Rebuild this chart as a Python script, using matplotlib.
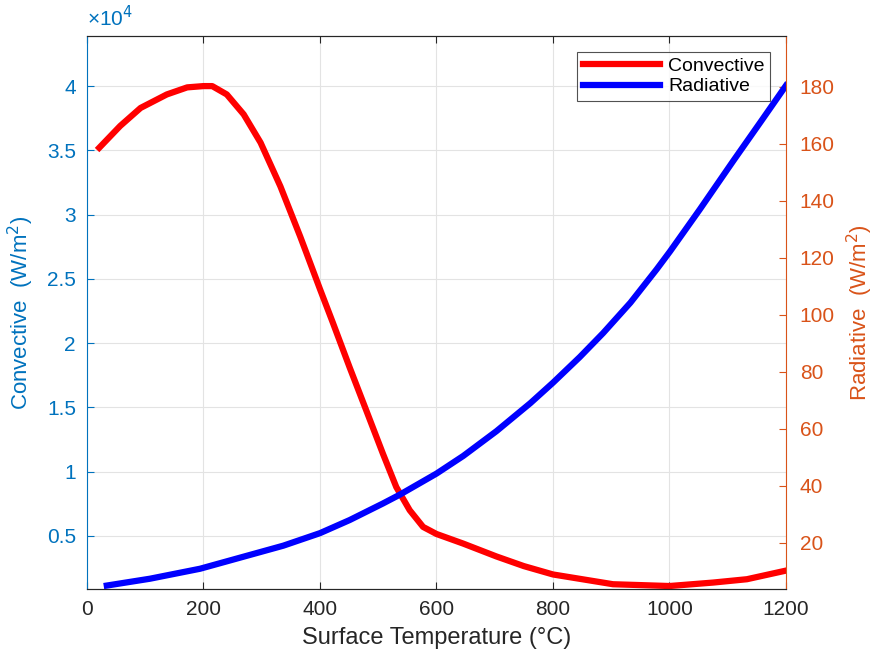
import matplotlib.pyplot as plt
import numpy as np
from matplotlib.ticker import FuncFormatter

plt.rcParams['font.family'] = ['Liberation Sans', 'DejaVu Sans']

# Convective (red, left axis), W/m^2
convT = [21, 57, 92, 137, 172, 200, 215, 240, 269, 298, 332, 366, 376, 400,
         422, 451, 480, 508, 531, 554, 577, 600, 646, 703, 750, 800, 903,
         1000, 1075, 1133, 1200]
convQ = [35200, 36900, 38300, 39350, 39900, 40000, 40000, 39350, 37800, 35600,
         32200, 28300, 27100, 24200, 21600, 18100, 14700, 11400, 8800, 7000,
         5700, 5150, 4400, 3400, 2650, 2000, 1240, 1100, 1370, 1630, 2300]

# Radiative (blue, right axis), W/m^2
radT = [34, 108, 194, 337, 400, 451, 508, 537, 600, 646, 703, 761, 800, 846,
        886, 933, 978, 1001, 1052, 1110, 1156, 1200]
radQ = [5.0, 7.4, 10.9, 19.0, 23.4, 28.0, 33.8, 36.9, 44.3, 50.5, 59.2, 69.0,
        76.2, 85.2, 93.6, 104.3, 116.0, 122.3, 137.0, 154.2, 167.6, 180.5]

blue = '#0072BD'
orange = '#D95319'
dark = '#262626'

fig = plt.figure(figsize=(8.77, 6.6), dpi=100)
ax = fig.add_axes([0.0992, 0.1076, 0.797, 0.8379])
ax2 = ax.twinx()

l1, = ax.plot(convT, convQ, color='red', lw=4.5, label='Convective',
              solid_joinstyle='round')
l2, = ax2.plot(radT, radQ, color='blue', lw=4.5, label='Radiative',
               solid_joinstyle='round')

ax.set_xlim(0, 1200)
ax.set_ylim(870, 43900)
ax2.set_ylim(3.8, 197.9)
ax.set_xticks(np.arange(0, 1201, 200))
ax.set_yticks(np.arange(5000, 40001, 5000))
ax2.set_yticks(np.arange(20, 181, 20))
ax.yaxis.set_major_formatter(FuncFormatter(lambda v, p: '%g' % (v / 1e4)))

ax.grid(True, color='#E3E3E3', lw=0.8)
ax.set_axisbelow(True)

for a in (ax, ax2):
    a.tick_params(direction='in', length=5, labelsize=15, pad=8)
ax.tick_params(axis='x', top=True, colors=dark)
ax.tick_params(axis='y', colors=blue)
ax2.tick_params(axis='y', colors=orange, pad=10)

ax.spines['left'].set_color(blue)
ax2.spines['left'].set_visible(False)
ax2.spines['right'].set_color(orange)
ax.spines['right'].set_visible(False)
for s in ('top', 'bottom'):
    ax.spines[s].set_color(dark)
    ax2.spines[s].set_color(dark)

ax.set_xlabel('Surface Temperature (°C)', fontsize=17, color=dark, labelpad=6)
ax.set_ylabel('Convective  (W/m$^2$)', fontsize=16, color=blue, labelpad=8)
ax2.set_ylabel('Radiative  (W/m$^2$)', fontsize=16, color=orange, labelpad=7)
ax.text(0.0, 1.01, '×10$^4$', transform=ax.transAxes, fontsize=15, color=blue,
        ha='left', va='bottom')

leg = ax2.legend(handles=[l1, l2], loc='upper right', fontsize=14, frameon=True,
                 fancybox=False, edgecolor=dark, handlelength=4.0,
                 borderaxespad=0.8, labelspacing=0.15, borderpad=0.3,
                 handletextpad=0.4)
leg.get_frame().set_linewidth(0.8)

fig.savefig('out.png', dpi=100)
